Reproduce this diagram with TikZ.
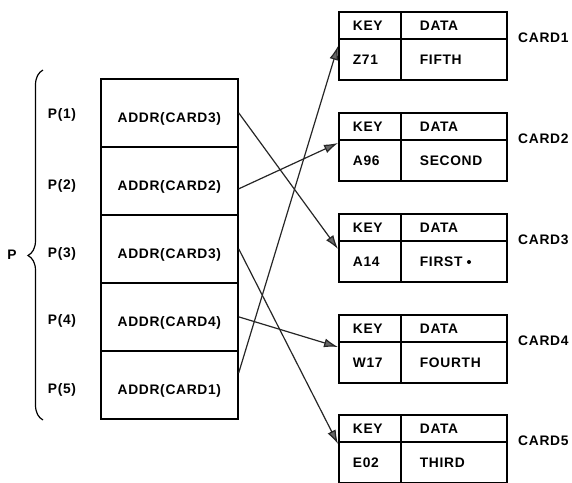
\documentclass[tikz,border=0pt]{standalone}
\usepackage{fontspec}
\setmainfont{Liberation Sans}[LetterSpace=5]
\usetikzlibrary{arrows.meta,decorations.pathreplacing}
\begin{document}
\begin{tikzpicture}[x=1pt,y=-1pt,
  font=\fontsize{13.8}{15}\selectfont\bfseries,
  cell/.style={draw, line width=1.7pt, inner ysep=0pt, anchor=north west},
  acell/.style={cell, minimum width=137pt, minimum height=68pt, inner xsep=0pt, text height=22pt, text depth=3pt},
  khead/.style={cell, minimum height=27pt, text width=34pt, inner xsep=14pt, align=left},
  dhead/.style={cell, minimum height=27pt, text width=68pt, inner xsep=19pt, align=left},
  kval/.style={cell, minimum height=41pt, text width=34pt, inner xsep=14pt, align=left},
  dval/.style={cell, minimum height=41pt, text width=68pt, inner xsep=19pt, align=left},
  cardlbl/.style={anchor=west, inner sep=0pt},
  arr/.style={line width=1.2pt, draw=black!85, -{Latex[length=14pt,width=9pt,fill=black!60]}}
]
\useasboundingbox (0,0) rectangle (572,482);

% brace and P
\draw[line width=1.2pt, decorate, decoration={brace, amplitude=15pt, aspect=0.47}] (43,420) -- (43,70);
\node (P) at (12,255) {P};

% array P
\node[acell] (a1) at (100,78)  {ADDR(CARD3)};
\node[acell] (a2) at (100,146) {ADDR(CARD2)};
\node[acell] (a3) at (100,214) {ADDR(CARD3)};
\node[acell] (a4) at (100,282) {ADDR(CARD4)};
\node[acell] (a5) at (100,350) {ADDR(CARD1)};

\node (p1) at (62,115) {P(1)};
\node (p2) at (62,186) {P(2)};
\node (p3) at (62,254) {P(3)};
\node (p4) at (62,321) {P(4)};
\node (p5) at (62,390) {P(5)};

% cards
\node[khead] (k1h) at (338,11) {KEY};
\node[dhead] (d1h) at (400,11) {DATA};
\node[kval]  (k1v) at (338,38) {Z71};
\node[dval]  (d1v) at (400,38) {FIFTH};
\node[cardlbl] (c1) at (518,38) {CARD1};

\node[khead] (k2h) at (338,112) {KEY};
\node[dhead] (d2h) at (400,112) {DATA};
\node[kval]  (k2v) at (338,139) {A96};
\node[dval]  (d2v) at (400,139) {SECOND};
\node[cardlbl] (c2) at (518,139) {CARD2};

\node[khead] (k3h) at (338,213) {KEY};
\node[dhead] (d3h) at (400,213) {DATA};
\node[kval]  (k3v) at (338,240) {A14};
\node[dval]  (d3v) at (400,240) {FIRST};
\node[cardlbl] (c3) at (518,240) {CARD3};
\node[circle, fill, inner sep=0pt, minimum size=4pt] (dot) at (469,262) {};

\node[khead] (k4h) at (338,314) {KEY};
\node[dhead] (d4h) at (400,314) {DATA};
\node[kval]  (k4v) at (338,341) {W17};
\node[dval]  (d4v) at (400,341) {FOURTH};
\node[cardlbl] (c4) at (518,341) {CARD4};

\node[khead] (k5h) at (338,414) {KEY};
\node[dhead] (d5h) at (400,414) {DATA};
\node[kval]  (k5v) at (338,441) {E02};
\node[dval]  (d5v) at (400,441) {THIRD};
\node[cardlbl] (c5) at (518,441) {CARD5};

% pointers
\draw[arr] (a1.east) -- ([yshift=-9pt]k3v.north west);
\draw[arr] ([yshift=-8pt]a2.east) -- ([yshift=-4pt]k2v.north west);
\draw[arr] (a3.east) -- ([yshift=-3pt]k5v.north west);
\draw[arr] (a4.east) -- ([yshift=-6pt]k4v.north west);
\draw[arr] ([yshift=12pt]a5.east) -- ([yshift=-8pt]k1v.north west);
\end{tikzpicture}
\end{document}
